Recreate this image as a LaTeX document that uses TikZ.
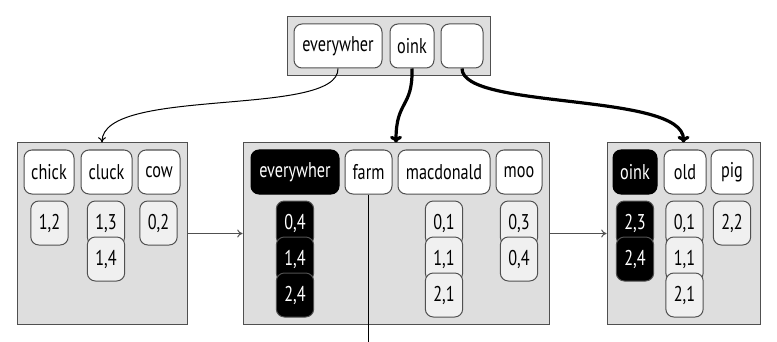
\documentclass[tikz,border=0pt]{standalone}
\usepackage{fontspec}
\setmainfont{PT Sans}[FakeStretch=0.76]
\usetikzlibrary{arrows.meta}
\definecolor{boxfill}{HTML}{DEDEDE}
\definecolor{valfill}{HTML}{F0F0F0}
\definecolor{edge}{HTML}{505050}
\begin{document}
\begin{tikzpicture}[x=0.75pt,y=-0.75pt,
  every node/.style={font=\fontsize{16}{19}\selectfont, inner sep=0pt},
  page/.style={draw=edge, fill=boxfill, line width=0.75pt},
  keybox/.style={draw=edge, fill=white, rounded corners=6pt, line width=0.75pt, minimum height=33pt},
  hikey/.style={keybox, fill=black, draw=black, text=white},
  valbox/.style={draw=edge, fill=valfill, rounded corners=6pt, line width=0.75pt, minimum height=33pt, minimum width=28pt},
  hival/.style={valbox, fill=black, draw=edge, text=white},
  thinlink/.style={line width=0.75pt, -{To[length=4pt,width=6pt]}},
  thicklink/.style={line width=2.4pt, -{To[length=5pt,width=9pt]}},
  plainline/.style={line width=0.75pt}
]
\useasboundingbox (0,0) rectangle (777,342);

% root page
\node[page, minimum width=152.25pt, minimum height=44.25pt] (root) at (388.5,46.5) {};
\node[keybox, minimum width=66pt] (r1) at (338,46) {everywher};
\node[keybox, minimum width=33pt] (r2) at (412,46) {oink};
\node[keybox, minimum width=31.5pt] (r3) at (462,46) {};

% left page
\node[page, minimum width=127.5pt, minimum height=135.75pt] (L) at (102,233.5) {};
\node[keybox, minimum width=37.5pt] (chick) at (49,172) {chick};
\node[keybox, minimum width=38.25pt] (cluck) at (106.5,172) {cluck};
\node[keybox, minimum width=31.5pt] (cow) at (159,172) {cow};
\node[valbox] (c12) at (49.5,223) {1,2};
\node[valbox] (c13) at (106,223) {1,3};
\node[valbox] (c14) at (106,259) {1,4};
\node[valbox] (c02) at (158.5,223) {0,2};

% middle page
\node[page, minimum width=229.5pt, minimum height=135.75pt] (M) at (396,233.5) {};
\node[hikey, minimum width=66pt] (every) at (295,172) {everywher};
\node[keybox, minimum width=35.25pt] (farm) at (368.5,172) {farm};
\node[keybox, minimum width=69pt] (macd) at (444,172) {macdonald};
\node[keybox, minimum width=34.5pt] (moo) at (519,172) {moo};
\node[hival] (e04) at (295,223) {0,4};
\node[hival] (e14) at (295,259) {1,4};
\node[hival] (e24) at (295,295) {2,4};
\node[valbox] (m01) at (444,223) {0,1};
\node[valbox] (m11) at (444,259) {1,1};
\node[valbox] (m21) at (444,295) {2,1};
\node[valbox] (o03) at (519,223) {0,3};
\node[valbox] (o04) at (519,259) {0,4};

% right page
\node[page, minimum width=114.75pt, minimum height=135.75pt] (R) at (683.5,233.5) {};
\node[hikey, minimum width=33pt] (oink) at (635,172) {oink};
\node[keybox, minimum width=31.5pt] (old) at (685,172) {old};
\node[keybox, minimum width=31.5pt] (pig) at (732,172) {pig};
\node[hival] (k23) at (635,223) {2,3};
\node[hival] (k24) at (635,259) {2,4};
\node[valbox] (d01) at (684.5,223) {0,1};
\node[valbox] (d11) at (684.5,259) {1,1};
\node[valbox] (d21) at (684.5,295) {2,1};
\node[valbox] (p22) at (732,223) {2,2};

% sibling links
\draw[thinlink, draw=edge] (L.east) -- (M.west);
\draw[thinlink, draw=edge] (M.east) -- (R.west);

% root links
\draw[thinlink] (r1.south) .. controls (339,118) and (102,86) .. (L.north);
\draw[thicklink] (r2.south) .. controls (413,108) and (396,100) .. (M.north);
\draw[thicklink] (r3.south) .. controls (462,110) and (683.5,92) .. (R.north);

% farm pointer
\coordinate (farmend) at (368.5,342);
\draw[plainline] (farm.south) -- (farmend);
\end{tikzpicture}
\end{document}
